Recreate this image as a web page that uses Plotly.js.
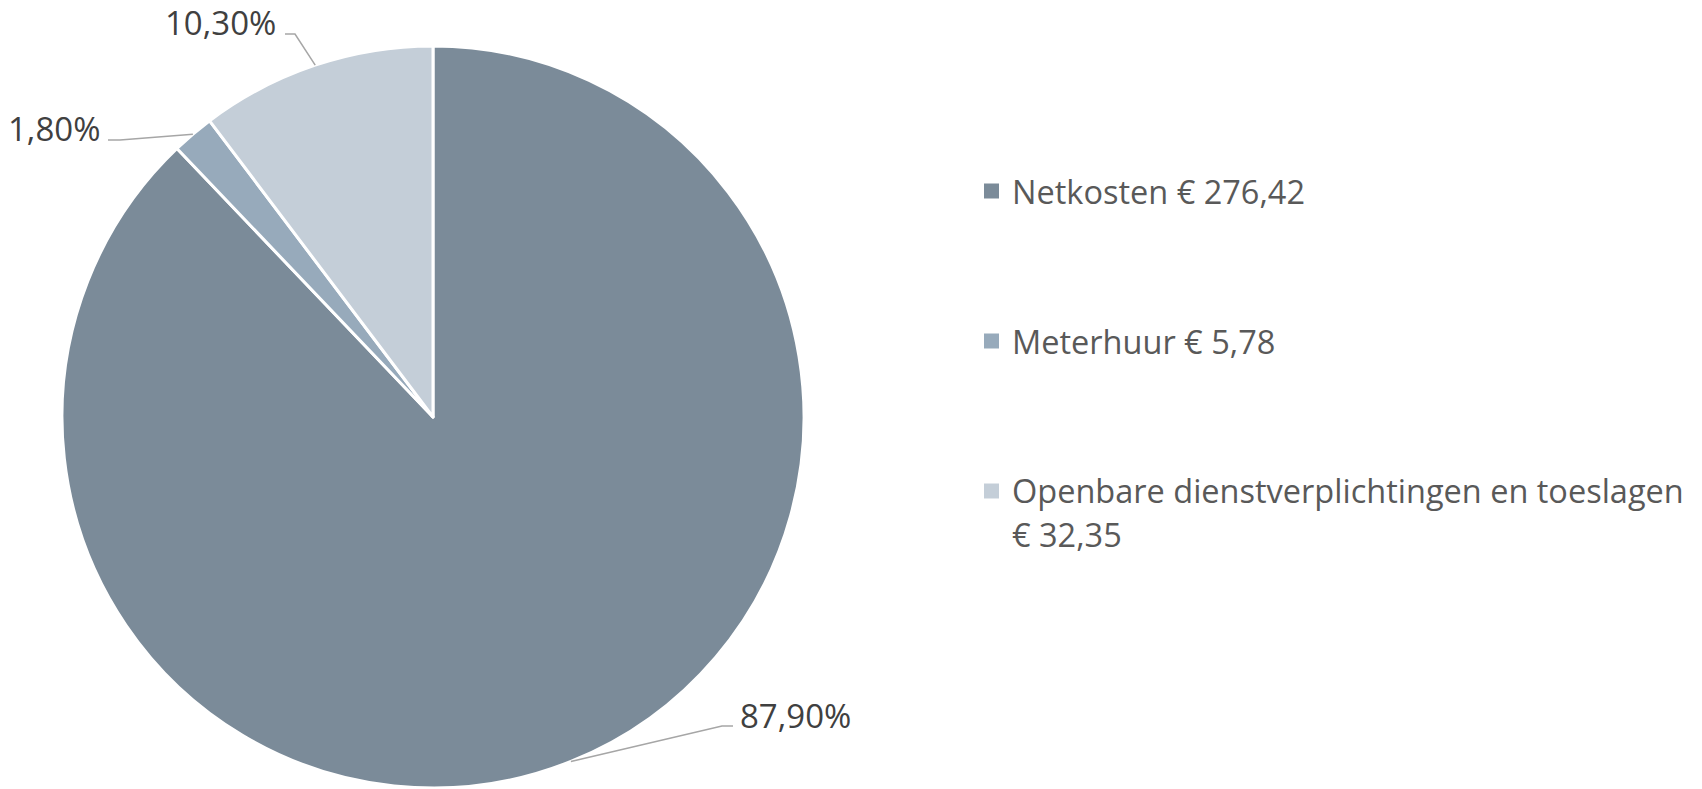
<!DOCTYPE html>
<html>
<head>
<meta charset="utf-8">
<script src="https://cdn.plot.ly/plotly-3.0.1.min.js"></script>
<style>
  html, body { margin: 0; padding: 0; background: #ffffff; }
  #chart { width: 1702px; height: 789px; }
</style>
</head>
<body>
<div id="chart"></div>
<script>
// ---- data ----
const categories = ['Netkosten', 'Meterhuur', 'Openbare dienstverplichtingen en toeslagen'];
const amounts = [276.42, 5.78, 32.35];
const pctLabels = ['87,90%', '1,80%', '10,30%'];
const colors = ['#7b8b99', '#97aabb', '#c4ced8'];

// ---- layout constants (pixels) ----
const W = 1702, H = 789;
const FONT = '"Open Sans", "Noto Sans", sans-serif';
const pieBox = { x0: 62, x1: 804, y0: 46, y1: 788 };
// label placement: elbow point, end of horizontal segment, side
const labelLayout = [
  { elbow: [722, 726], end: [733, 726], side: 'right', textGap: 5 },
  { elbow: [120, 140], end: [108, 140], side: 'left', textGap: 6 },
  { elbow: [295, 34], end: [285, 34], side: 'left', textGap: 7 }
];
const legendLayout = { markerX: 984, markerSize: 15, textX: 1010, firstY: 191, step: 150, lineH: 43, fontSize: 32.5, wrapChars: 42 };
const labelFontSize = 33;

const px = x => x / W;
const py = y => 1 - y / H;

const fmt = v => v.toFixed(2).replace('.', ',');

// pie geometry derived from data
const cx = (pieBox.x0 + pieBox.x1) / 2;
const cy = (pieBox.y0 + pieBox.y1) / 2;
const R = Math.min(pieBox.x1 - pieBox.x0, pieBox.y1 - pieBox.y0) / 2;
const total = amounts.reduce((a, b) => a + b, 0);
let cum = 0;
const midPoints = amounts.map(v => {
  const mid = (cum + v / 2) / total;
  cum += v;
  const ang = mid * 2 * Math.PI; // clockwise from 12 o'clock
  return [cx + R * Math.sin(ang), cy - R * Math.cos(ang)];
});

const shapes = [];
const annotations = [];

// leader lines + percentage labels
midPoints.forEach((p, i) => {
  const L = labelLayout[i];
  shapes.push({
    type: 'path', xref: 'paper', yref: 'paper',
    path: `M ${px(p[0])} ${py(p[1])} L ${px(L.elbow[0])} ${py(L.elbow[1])} L ${px(L.end[0])} ${py(L.end[1])}`,
    line: { color: '#a6a6a6', width: 1.5 }
  });
  const tx = L.side === 'right' ? L.end[0] + L.textGap : L.end[0] - L.textGap;
  annotations.push({
    xref: 'paper', yref: 'paper',
    x: px(tx), y: py(L.end[1] - 11),
    xanchor: L.side === 'right' ? 'left' : 'right', yanchor: 'middle',
    text: pctLabels[i], showarrow: false,
    font: { family: FONT, size: labelFontSize, color: '#404040' }
  });
});

// manual legend
function wrap(tokens, maxChars) {
  const lines = [];
  let cur = '';
  tokens.forEach(t => {
    const cand = cur ? cur + ' ' + t : t;
    if (cand.length > maxChars && cur) { lines.push(cur); cur = t; }
    else cur = cand;
  });
  if (cur) lines.push(cur);
  return lines;
}
categories.forEach((c, i) => {
  const yc = legendLayout.firstY + i * legendLayout.step;
  const s = legendLayout.markerSize;
  shapes.push({
    type: 'rect', xref: 'paper', yref: 'paper',
    x0: px(legendLayout.markerX), x1: px(legendLayout.markerX + s),
    y0: py(yc + s / 2), y1: py(yc - s / 2),
    fillcolor: colors[i], line: { width: 0 }
  });
  const tokens = c.split(' ').concat(['€\u00a0' + fmt(amounts[i])]);
  const lines = wrap(tokens, legendLayout.wrapChars);
  lines.forEach((ln, k) => {
    annotations.push({
      xref: 'paper', yref: 'paper',
      x: px(legendLayout.textX), y: py(yc + k * legendLayout.lineH),
      xanchor: 'left', yanchor: 'middle',
      text: ln, showarrow: false,
      font: { family: FONT, size: legendLayout.fontSize, color: '#595959' }
    });
  });
});

const trace = {
  type: 'pie',
  labels: categories,
  values: amounts,
  sort: false,
  direction: 'clockwise',
  rotation: 0,
  marker: { colors: colors, line: { color: '#ffffff', width: 3 } },
  textinfo: 'none',
  hoverinfo: 'skip',
  showlegend: false,
  domain: { x: [px(pieBox.x0), px(pieBox.x1)], y: [py(pieBox.y1), py(pieBox.y0)] }
};

const layout = {
  width: W, height: H,
  margin: { l: 0, r: 0, t: 0, b: 0 },
  paper_bgcolor: '#ffffff',
  plot_bgcolor: '#ffffff',
  showlegend: false,
  shapes: shapes,
  annotations: annotations,
  font: { family: FONT }
};

Plotly.newPlot('chart', [trace], layout, { displayModeBar: false, staticPlot: true });
</script>
</body>
</html>
